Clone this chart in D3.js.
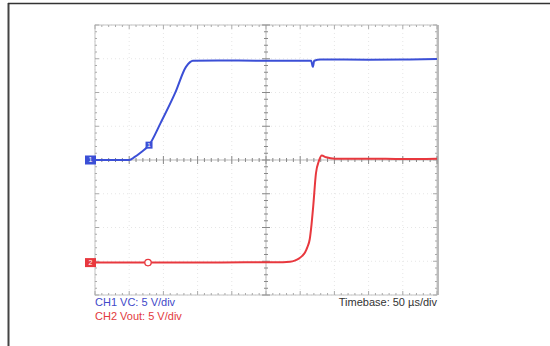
<!DOCTYPE html>
<html>
  <head>
    <meta charset="utf-8">
    <title>Scope capture</title>
    <script src="https://d3js.org/d3.v7.min.js"></script>
    <style>
    body { margin:0; background:#fff; }
    svg { display:block; }
    .lbl { font-family:"Liberation Sans", Arial, sans-serif; font-size:11px; }
    </style>
  </head>
  <body>
    <script>

// time in microseconds, level in volts
var ch1Time  = [0, 50, 58, 66, 79, 96, 117, 133, 139, 143, 180, 240, 300, 316, 318.5, 320.5, 330, 400, 460, 500];
var ch1Volts = [0, 0, 0.45, 1.05, 2.2, 5.5, 9.9, 13.8, 14.5, 14.7, 14.75, 14.7, 14.7, 14.7, 13.8, 14.7, 14.9, 14.85, 14.9, 14.95];

var ch2Time  = [0, 77, 150, 220, 275, 285, 292, 298, 303, 307, 310.5, 314, 316.5, 319, 323, 327.5, 331.5, 338, 351, 400, 450, 500];
var ch2Volts = [0, 0, 0, 0.05, 0.05, 0.12, 0.3, 0.6, 1.0, 1.5, 2.3, 3.5, 5.6, 8.3, 13.2, 15.1, 15.85, 15.6, 15.4, 15.4, 15.35, 15.4];

var ch1Offset = 0, ch2Offset = -15.2;   // trace position on screen, volts
var ch1Marker = {t: 79, v: 2.2};
var ch2Marker = {t: 77.5, v: 0};

var ch1Label = "CH1 VC: 5 V/div",
    ch2Label = "CH2 Vout: 5 V/div",
    timeLabel = "Timebase: 50 \u00b5s/div";

var width = 550, height = 346;
var gLeft = 95, gRight = 437, gTop = 25, gBottom = 295;

var x = d3.scaleLinear().domain([0, 500]).range([gLeft, gRight]);
var y = d3.scaleLinear().domain([-20, 20]).range([gBottom, gTop]);

var blue = "#3b4fd6", red = "#e8383e";

var svg = d3.select("body").append("svg")
    .attr("width", width)
    .attr("height", height);

// page frame
svg.append("line").attr("x1", 8.5).attr("x2", 8.5).attr("y1", 3).attr("y2", height)
    .attr("stroke", "#444").attr("stroke-width", 2);
svg.append("line").attr("x1", 8).attr("x2", width).attr("y1", 3.5).attr("y2", 3.5)
    .attr("stroke", "#333").attr("stroke-width", 1.5);

var grid = svg.append("g");

// faint graticule
var xDivs = d3.range(0, 501, 50), yDivs = d3.range(-20, 21, 5);
grid.selectAll(".vg").data(xDivs).enter().append("line")
    .attr("x1", function(d){ return x(d); }).attr("x2", function(d){ return x(d); })
    .attr("y1", gTop).attr("y2", gBottom)
    .attr("stroke", "#e6e6e6").attr("stroke-dasharray", "1,3");
grid.selectAll(".hg").data(yDivs).enter().append("line")
    .attr("x1", gLeft).attr("x2", gRight)
    .attr("y1", function(d){ return y(d); }).attr("y2", function(d){ return y(d); })
    .attr("stroke", "#e6e6e6").attr("stroke-dasharray", "1,3");

// border
grid.append("rect").attr("x", gLeft).attr("y", gTop)
    .attr("width", gRight - gLeft).attr("height", gBottom - gTop)
    .attr("fill", "none").attr("stroke", "#c4c4c4");
grid.append("line").attr("x1", gRight + 1).attr("x2", gRight + 1).attr("y1", gTop).attr("y2", gBottom)
    .attr("stroke", "#bbb").attr("stroke-width", 2);

// minor ticks on the border and the centre cross
var xMinor = d3.range(0, 501, 10), yMinor = d3.range(-20, 20.01, 1);
function xTicks(yPos, col, up, down) {
  grid.append("g").selectAll("line").data(xMinor).enter().append("line")
      .attr("x1", function(d){ return x(d); }).attr("x2", function(d){ return x(d); })
      .attr("y1", function(d){ return yPos - (d % 50 === 0 ? up * 2 : up); })
      .attr("y2", function(d){ return yPos + (d % 50 === 0 ? down * 2 : down); })
      .attr("stroke", col);
}
function yTicks(xPos, col, l, r) {
  grid.append("g").selectAll("line").data(yMinor).enter().append("line")
      .attr("y1", function(d){ return y(d); }).attr("y2", function(d){ return y(d); })
      .attr("x1", function(d){ return xPos - (Math.abs(d) % 5 === 0 ? l * 2 : l); })
      .attr("x2", function(d){ return xPos + (Math.abs(d) % 5 === 0 ? r * 2 : r); })
      .attr("stroke", col);
}
xTicks(gTop, "#aaa", 0, 2);
xTicks(gBottom, "#aaa", 2, 0);
yTicks(gLeft, "#aaa", 0, 2);
yTicks(gRight, "#aaa", 2, 0);

grid.append("line").attr("x1", gLeft).attr("x2", gRight).attr("y1", y(0)).attr("y2", y(0))
    .attr("stroke", "#bbb");
grid.append("line").attr("x1", x(250)).attr("x2", x(250)).attr("y1", gTop).attr("y2", gBottom)
    .attr("stroke", "#bbb");
xTicks(y(0), "#888", 2, 2);
yTicks(x(250), "#888", 2, 2);

// traces
function trace(ts, vs, off) {
  return ts.map(function(t, i){ return [t, vs[i] + off]; });
}
var line = d3.line()
    .x(function(d){ return x(d[0]); })
    .y(function(d){ return y(d[1]); })
    .curve(d3.curveMonotoneX);

svg.append("path").datum(trace(ch1Time, ch1Volts, ch1Offset))
    .attr("d", line).attr("fill", "none")
    .attr("stroke", blue).attr("stroke-width", 2).attr("stroke-linejoin", "round");
svg.append("path").datum(trace(ch2Time, ch2Volts, ch2Offset))
    .attr("d", line).attr("fill", "none")
    .attr("stroke", red).attr("stroke-width", 2).attr("stroke-linejoin", "round");

// ground markers at the left edge
function groundMarker(off, col, name) {
  var g = svg.append("g").attr("transform", "translate(" + (gLeft - 4.5) + "," + y(off) + ")");
  g.append("rect").attr("x", -5.5).attr("y", -4.5).attr("width", 11).attr("height", 9)
      .attr("fill", col);
  g.append("text").attr("class", "lbl").attr("text-anchor", "middle").attr("dy", "0.35em")
      .style("font-size", "7px").attr("fill", "#fff").text(name);
}
groundMarker(ch1Offset, blue, "1");
groundMarker(ch2Offset, red, "2");

// channel markers on the traces
var m1 = svg.append("g").attr("transform",
    "translate(" + x(ch1Marker.t) + "," + y(ch1Marker.v + ch1Offset) + ")");
m1.append("rect").attr("x", -3.5).attr("y", -3.5).attr("width", 7).attr("height", 7)
    .attr("fill", blue);
m1.append("text").attr("class", "lbl").attr("text-anchor", "middle").attr("dy", "0.35em")
    .style("font-size", "6px").attr("fill", "#fff").text("1");

var m2 = svg.append("g").attr("transform",
    "translate(" + x(ch2Marker.t) + "," + y(ch2Marker.v + ch2Offset) + ")");
m2.append("circle").attr("r", 3.2).attr("fill", "#fff").attr("stroke", red).attr("stroke-width", 1.3);

// labels
svg.append("text").attr("class", "lbl").attr("x", gLeft).attr("y", 306)
    .attr("fill", "#4149c9").text(ch1Label);
svg.append("text").attr("class", "lbl").attr("x", gLeft).attr("y", 320)
    .attr("fill", "#e2393d").text(ch2Label);
svg.append("text").attr("class", "lbl").attr("x", gRight).attr("y", 306)
    .attr("text-anchor", "end").attr("fill", "#333").text(timeLabel);

    </script>
  </body>
</html>
